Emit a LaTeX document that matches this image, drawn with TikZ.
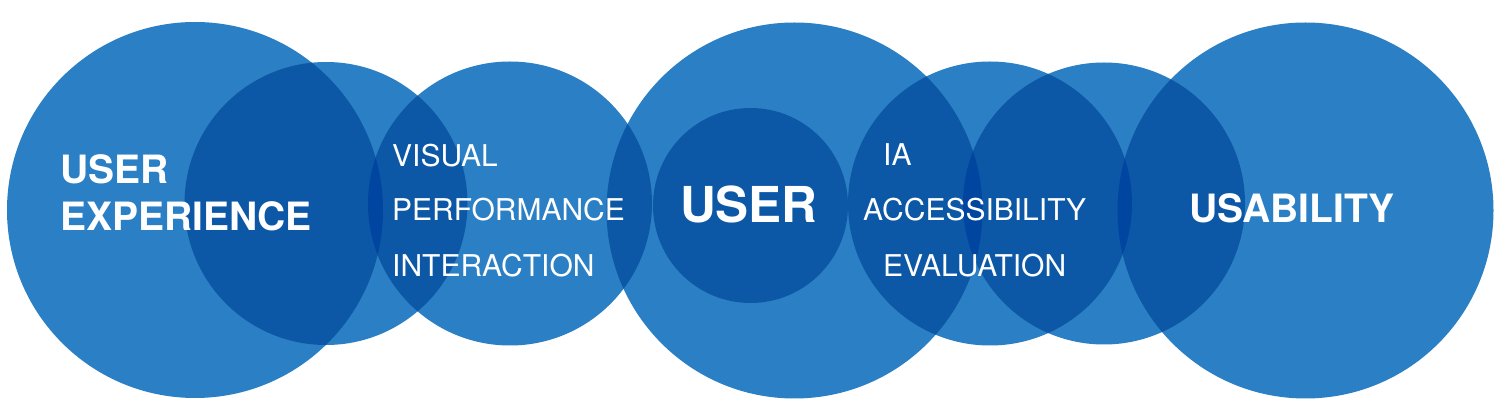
\documentclass[tikz,border=0pt]{standalone}
\usepackage{fontspec}
\setmainfont{TeX Gyre Heros}
\definecolor{blueA}{HTML}{2B7FC4}
\definecolor{blueB}{HTML}{0C58A6}
\definecolor{blueC}{HTML}{0045A0}
\tikzset{
  one/.style={fill=blueA},
  two/.style={fill=blueB},
  three/.style={fill=blueC},
  lbl/.style={text=white,anchor=base west,inner sep=0pt,font=\fontsize{30}{30}\selectfont},
  lblb/.style={text=white,anchor=base west,inner sep=0pt,font=\fontsize{39}{39}\selectfont\bfseries},
}
\def\cA{(195pt,210pt) circle[radius=188pt]}
\def\cB{(326pt,216.5pt) circle[radius=141.5pt]}
\def\cC{(510pt,216.5pt) circle[radius=142pt]}
\def\cD{(794.5pt,209.5pt) circle[radius=188pt]}
\def\cE{(750.5pt,214.5pt) circle[radius=97.5pt]}
\def\cF{(990pt,216.5pt) circle[radius=142pt]}
\def\cG{(1104pt,216.5pt) circle[radius=141pt]}
\def\cH{(1305.5pt,209.5pt) circle[radius=188pt]}
\begin{document}
\begin{tikzpicture}[x=1pt,y=1pt]
\useasboundingbox (0,0) rectangle (1500,420);
\fill[white] (0,0) rectangle (1500,420);
% single
\fill[one] \cA; \fill[one] \cB; \fill[one] \cC; \fill[one] \cD;
\fill[one] \cF; \fill[one] \cG; \fill[one] \cH;
% pairs
\begin{scope}\clip \cA; \fill[two] \cB; \fill[two] \cC; \end{scope}
\begin{scope}\clip \cB; \fill[two] \cC; \end{scope}
\begin{scope}\clip \cC; \fill[two] \cD; \end{scope}
\fill[two] \cE;
\begin{scope}\clip \cD; \fill[two] \cF; \fill[two] \cG; \end{scope}
\begin{scope}\clip \cF; \fill[two] \cG; \fill[two] \cH; \end{scope}
\begin{scope}\clip \cG; \fill[two] \cH; \end{scope}
% triples
\begin{scope}\clip \cA; \clip \cB; \fill[three] \cC; \end{scope}
\begin{scope}\clip \cD; \clip \cF; \fill[three] \cG; \end{scope}
\begin{scope}\clip \cF; \clip \cG; \fill[three] \cH; \end{scope}
% labels
\node[lblb] (ux1) at (60,236) {USER};
\node[lblb] (ux2) at (60,189) {EXPERIENCE};
\node[lbl] (vis) at (392,253) {VISUAL};
\node[lbl] (perf) at (392,199) {PERFORMANCE};
\node[lbl] (inter) at (392,143) {INTERACTION};
\node[lblb,font=\fontsize{49.5}{49.5}\selectfont\bfseries] (user) at (680,197) {USER};
\node[lbl] (ia) at (883,254) {IA};
\node[lbl] (acc) at (863,199) {ACCESSIBILITY};
\node[lbl] (eval) at (883,143) {EVALUATION};
\node[lblb] (usab) at (1189,197) {USABILITY};
\end{tikzpicture}
\end{document}
